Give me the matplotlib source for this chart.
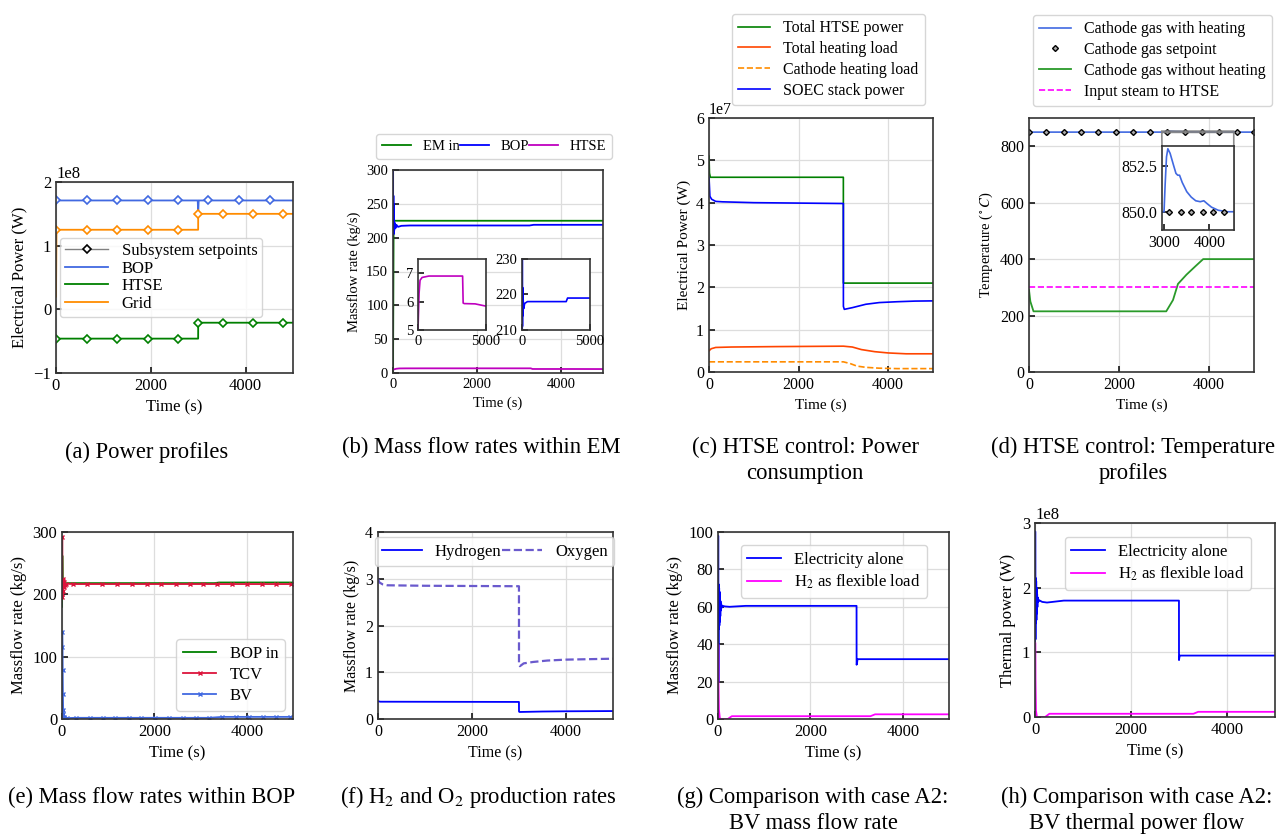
import numpy as np
import matplotlib
matplotlib.use('Agg')
from matplotlib import pyplot as plt
from matplotlib.lines import Line2D

plt.rcParams['font.family'] = ['Liberation Serif', 'DejaVu Serif']
plt.rcParams['mathtext.fontset'] = 'stix'
plt.rcParams['axes.edgecolor'] = '#333333'
plt.rcParams['axes.linewidth'] = 1.2

W, H = 1285, 835

# ---------------- data ----------------
# (a) power profiles, units of 1e8 W
a_bop_t = [0, 10, 30, 2990, 3000, 3010, 5000]
a_bop = [1.65, 1.70, 1.71, 1.71, 1.50, 1.71, 1.71]
a_grid_t = [0, 10, 20, 2999, 3000, 5000]
a_grid = [0.2, 1.2, 1.25, 1.25, 1.50, 1.50]
a_htse_t = [0, 2999, 3000, 5000]
a_htse = [-0.46, -0.46, -0.21, -0.21]
a_sp_bop_t = [0, 646, 1292, 1931, 2577, 3216, 3862, 4508]
a_sp_bop = [1.71, 1.71, 1.71, 1.71, 1.71, 1.71, 1.71, 1.71]
a_sp_t = [0, 646, 1292, 1931, 2577, 3000, 3525, 4157, 4789]
a_sp_grid = [1.24, 1.25, 1.25, 1.25, 1.25, 1.50, 1.50, 1.50, 1.50]
a_sp_htse = [-0.46, -0.46, -0.46, -0.46, -0.46, -0.21, -0.21, -0.21, -0.21]

# (b) mass flow rates within EM (kg/s)
b_em_t = [0, 15, 40, 5000]
b_em = [0, 223, 225, 225]
b_bop_t = [0, 5, 10, 15, 20, 30, 40, 60, 80, 120, 200, 400, 3250, 3350, 5000]
b_bop = [300, 210, 262, 205, 250, 211, 222, 214, 219, 216, 217.5, 218, 218, 219, 219]
b_htse_t = [0, 80, 150, 300, 800, 3280, 3320, 3400, 4200, 5000]
b_htse = [5.0, 6.3, 6.75, 6.85, 6.9, 6.9, 5.95, 5.93, 5.92, 5.84]

# (c) HTSE power, units of 1e7 W
c_tot_t = [0, 10, 30, 2999, 3000, 5000]
c_tot = [5.1, 4.7, 4.6, 4.6, 2.1, 2.1]
c_soec_t = [0, 20, 60, 150, 300, 1000, 2999, 3000, 3020, 3200, 3500, 3800, 4200, 4600, 5000]
c_soec = [4.6, 4.15, 4.08, 4.03, 4.02, 4.0, 3.98, 1.55, 1.48, 1.52, 1.60, 1.64, 1.66, 1.675, 1.68]
c_heat_t = [0, 50, 150, 500, 1500, 3000, 3200, 3400, 3700, 4000, 4400, 5000]
c_heat = [0.50, 0.55, 0.58, 0.59, 0.60, 0.61, 0.59, 0.53, 0.48, 0.45, 0.43, 0.43]
c_cath_t = [0, 3000, 3150, 3300, 3500, 3800, 4200, 5000]
c_cath = [0.24, 0.24, 0.20, 0.14, 0.11, 0.09, 0.08, 0.08]

# (d) temperature profiles (deg C)
d_heat_t = [0, 2995, 3020, 3050, 3080, 3130, 3200, 3260, 3300, 3340, 3400, 3500,
            3600, 3700, 3800, 3880, 3950, 4050, 4200, 4400, 5000]
d_heat = [850, 850, 851.5, 853.0, 853.45, 853.2, 852.6, 852.1, 852.0, 852.0, 851.6, 851.1,
          850.8, 850.6, 850.55, 850.6, 850.45, 850.25, 850.08, 850.0, 850.0]
d_sp_t = [0, 385, 769, 1154, 1538, 1923, 2308, 2692, 3077, 3462, 3846, 4231, 4615, 5000]
d_sp = [850] * 14
d_sp_in_t = [3110, 3370, 3600, 3850, 4090, 4330]
d_sp_in = [850] * 6
d_noheat_t = [0, 30, 100, 3050, 3200, 3310, 3500, 3700, 3870, 5000]
d_noheat = [290, 250, 215, 215, 255, 312, 345, 375, 400, 400]
d_steam_t = [0, 5000]
d_steam = [300, 300]

# (e) mass flow rates within BOP (kg/s)
e_bop_t = [0, 8, 15, 25, 40, 60, 100, 200, 3300, 3400, 5000]
e_bop = [180, 262, 230, 210, 222, 216, 218, 218, 218, 219, 219]
e_tcv_t = [0, 5, 10, 15, 20, 30, 40, 50, 60, 80, 237, 540, 863, 1187, 1511, 1835, 2140,
           2460, 2780, 3060, 3360, 3680, 4000, 4320, 4640, 4960]
e_tcv = [200, 292, 195, 225, 205, 222, 212, 219, 215, 217] + [216.5] * 16
e_bv_t = [0, 5, 10, 15, 20, 25, 30, 40, 50, 70, 100, 310, 600, 880, 1150, 1440, 1720,
          2010, 2320, 2610, 2910, 3180, 3470, 3760, 4050, 4340, 4640, 4930]
e_bv = [0, 140, 115, 78, 40, 15, 8, 3, 1, 0.5, 1.5, 1.9, 1.9, 1.9, 1.9, 1.9, 1.9,
        1.9, 1.9, 1.9, 1.9, 1.9, 3.4, 3.4, 3.4, 3.4, 3.4, 3.4]

# (f) H2 / O2 production (kg/s)
f_h2_t = [0, 50, 2999, 3000, 3010, 3500, 4000, 5000]
f_h2 = [0.38, 0.37, 0.365, 0.16, 0.15, 0.16, 0.165, 0.17]
f_o2_t = [0, 30, 100, 200, 1000, 2999, 3000, 3020, 3100, 3300, 3600, 4000, 4500, 5000]
f_o2 = [3.0, 2.92, 2.88, 2.86, 2.85, 2.84, 1.2, 1.13, 1.19, 1.22, 1.25, 1.27, 1.28, 1.29]

# (g) BV mass flow (kg/s) and (h) BV thermal power (1e8 W)
gh_elec_t = [0, 5, 10, 15, 20, 25, 30, 35, 40, 45, 50, 55, 60, 70, 80, 100, 150, 250,
             600, 2999, 3000, 3010, 3020, 5000]
g_elec = [0, 98, 20, 72, 48, 70, 50, 68, 52, 65, 55, 63, 58, 61.5, 59.5, 60.5, 60.2, 60,
          60.5, 60.5, 29, 30, 32, 32]
h_elec = [0, 2.87, 1.2, 2.15, 1.45, 2.1, 1.5, 2.0, 1.6, 1.9, 1.7, 1.85, 1.78, 1.82, 1.79,
          1.8, 1.78, 1.77, 1.8, 1.8, 0.88, 0.93, 0.95, 0.95]
gh_flex_t = [0, 5, 10, 20, 40, 60, 210, 300, 3300, 3400, 5000]
g_flex = [0, 40, 20, 5, 0.5, 0, 0, 1.5, 1.5, 2.5, 2.5]
h_flex = [0, 1.15, 0.6, 0.1, 0, 0, 0, 0.05, 0.05, 0.08, 0.08]

captions = ['(a) Power profiles', '(b) Mass flow rates within EM',
            '(c) HTSE control: Power\nconsumption', '(d) HTSE control: Temperature\nprofiles',
            '(e) Mass flow rates within BOP', '(f) H$_2$ and O$_2$ production rates',
            '(g) Comparison with case A2:\nBV mass flow rate',
            '(h) Comparison with case A2:\nBV thermal power flow']

# ---------------- layout ----------------
fig = plt.figure(figsize=(W / 100, H / 100), dpi=100)


def add_ax(l, t, r, b):
    return fig.add_axes([l / W, 1 - b / H, (r - l) / W, (b - t) / H])


def style(ax, fs, grid=True):
    ax.tick_params(direction='in', labelsize=fs, length=4, width=1.1)
    if grid:
        ax.grid(True, color='#dddddd', lw=0.9)
        ax.set_axisbelow(True)
    ax.yaxis.get_offset_text().set_fontsize(fs)


# (a)
ax = add_ax(56, 182, 293, 373)
ax.plot(a_bop_t, np.array(a_bop) * 1e8, color='royalblue', lw=1.3)
ax.plot(a_htse_t, np.array(a_htse) * 1e8, color='green', lw=1.3)
ax.plot(a_grid_t, np.array(a_grid) * 1e8, color='darkorange', lw=1.3)
mk = dict(ls='none', marker='D', ms=4.5, mfc='white', mew=1.2)
ax.plot(a_sp_bop_t, np.array(a_sp_bop) * 1e8, mec='royalblue', **mk)
ax.plot(a_sp_t, np.array(a_sp_htse) * 1e8, mec='green', **mk)
ax.plot(a_sp_t, np.array(a_sp_grid) * 1e8, mec='darkorange', **mk)
ax.set_xlim(0, 5000)
ax.set_ylim(-1e8, 2e8)
ax.set_yticks([-1e8, 0, 1e8, 2e8])
ax.set_xticks([0, 2000, 4000])
ax.set_xlabel('Time (s)', fontsize=12)
ax.set_ylabel('Electrical Power (W)', fontsize=12)
style(ax, 12)
handles = [Line2D([], [], color='gray', lw=1, marker='D', ms=4, mfc='white', mec='k', mew=1.2),
           Line2D([], [], color='royalblue', lw=1.3),
           Line2D([], [], color='green', lw=1.3),
           Line2D([], [], color='darkorange', lw=1.3)]
ax.legend(handles, ['Subsystem setpoints', 'BOP', 'HTSE', 'Grid'], fontsize=12,
          loc='upper left', bbox_to_anchor=(0.017, 0.707), borderaxespad=0,
          borderpad=0.3, labelspacing=0.1, handlelength=2.6)

# (b)
ax = add_ax(393, 170, 603, 373)
ax.plot(b_em_t, b_em, color='green', lw=1.3, label='EM in')
ax.plot(b_bop_t, b_bop, color='blue', lw=1.3, label='BOP')
ax.plot(b_htse_t, b_htse, color='m', lw=1.3, label='HTSE')
ax.set_xlim(0, 5000)
ax.set_ylim(0, 300)
ax.set_yticks(range(0, 301, 50))
ax.set_xticks([0, 2000, 4000])
ax.set_xlabel('Time (s)', fontsize=10.5)
ax.set_ylabel('Massflow rate (kg/s)', fontsize=10.5)
style(ax, 10.5)
ax.legend(ncol=3, fontsize=10.5, loc='lower center', bbox_to_anchor=(0.483, 1.054),
          borderaxespad=0, columnspacing=0.0, borderpad=0.4)
ins = add_ax(418, 259, 486, 330)
ins.plot(b_htse_t, b_htse, color='m', lw=1.2)
ins.set_xlim(0, 5000)
ins.set_ylim(5, 7.5)
ins.set_yticks([5, 6, 7])
ins.set_xticks([0, 5000])
style(ins, 10.5, grid=False)
ins = add_ax(522, 259, 590, 330)
ins.plot(b_bop_t, b_bop, color='blue', lw=1.2)
ins.set_xlim(0, 5000)
ins.set_ylim(210, 230)
ins.set_yticks([210, 220, 230])
ins.set_xticks([0, 5000])
style(ins, 10.5, grid=False)

# (c)
ax = add_ax(709, 118, 933, 372)
ax.plot(c_tot_t, np.array(c_tot) * 1e7, color='green', lw=1.2, label='Total HTSE power')
ax.plot(c_heat_t, np.array(c_heat) * 1e7, color='orangered', lw=1.2, label='Total heating load')
ax.plot(c_cath_t, np.array(c_cath) * 1e7, color='darkorange', lw=1.2, ls='--',
        label='Cathode heating load')
ax.plot(c_soec_t, np.array(c_soec) * 1e7, color='blue', lw=1.2, label='SOEC stack power')
ax.set_xlim(0, 5000)
ax.set_ylim(0, 6e7)
ax.set_xticks([0, 2000, 4000])
ax.set_xlabel('Time (s)', fontsize=11)
ax.set_ylabel('Electrical Power (W)', fontsize=11)
style(ax, 11.5)
ax.legend(fontsize=11.5, loc='lower center', bbox_to_anchor=(0.533, 1.051),
          borderaxespad=0, borderpad=0.4, labelspacing=0.3)

# (d)
ax = add_ax(1029, 118, 1254, 372)
ax.plot(d_heat_t, d_heat, color='royalblue', lw=1.2, label='Cathode gas with heating')
spk = dict(ls='none', marker='D', ms=3, mfc='#aaaaaa', mec='k', mew=1.0)
ax.plot(d_sp_t, d_sp, label='Cathode gas setpoint', **spk)
ax.plot(d_noheat_t, d_noheat, color='#2a9a2a', lw=1.3, label='Cathode gas without heating')
ax.plot(d_steam_t, d_steam, color='magenta', lw=1.2, ls='--', label='Input steam to HTSE')
ax.set_xlim(0, 5000)
ax.set_ylim(0, 900)
ax.set_yticks(range(0, 801, 200))
ax.set_xticks([0, 2000, 4000])
ax.set_xlabel('Time (s)', fontsize=11)
ax.set_ylabel('Temperature ($^\\circ C$)', fontsize=10.5)
style(ax, 11.5)
ax.legend(fontsize=11.5, loc='lower center', bbox_to_anchor=(0.549, 1.047),
          borderaxespad=0, borderpad=0.4, labelspacing=0.3)
ins = add_ax(1162, 146, 1234, 230)
ins.plot(d_heat_t, d_heat, color='royalblue', lw=1.2)
ins.plot(d_sp_in_t, d_sp_in, **spk)
ins.set_xlim(2950, 4550)
ins.set_ylim(849, 853.6)
ins.set_xticks([3000, 4000])
ins.set_yticks([850.0, 852.5])
ins.yaxis.set_major_formatter(matplotlib.ticker.FormatStrFormatter('%.1f'))
style(ins, 11.5, grid=False)
ax.indicate_inset_zoom(ins, edgecolor='gray', alpha=0.9, lw=1.2)

# (e)
ax = add_ax(62, 532, 293, 719)
ax.plot(e_bop_t, e_bop, color='green', lw=1.3, label='BOP in')
ax.plot(e_tcv_t, e_tcv, color='crimson', lw=1.3, marker='x', ms=3.5, mew=1, label='TCV')
ax.plot(e_bv_t, e_bv, color='royalblue', lw=1.3, marker='x', ms=3.5, mew=1, label='BV')
ax.set_xlim(0, 5000)
ax.set_ylim(0, 300)
ax.set_yticks([0, 100, 200, 300])
ax.set_xticks([0, 2000, 4000])
ax.set_xlabel('Time (s)', fontsize=12)
ax.set_ylabel('Massflow rate (kg/s)', fontsize=12)
style(ax, 12)
ax.legend(fontsize=12, loc='lower right', borderpad=0.4, labelspacing=0.3)

# (f)
ax = add_ax(378, 532, 613, 719)
ax.plot(f_h2_t, f_h2, color='blue', lw=1.3, label='Hydrogen')
ax.plot(f_o2_t, f_o2, color='slateblue', lw=1.6, ls='--', label='Oxygen')
ax.set_xlim(0, 5000)
ax.set_ylim(0, 4)
ax.set_yticks([0, 1, 2, 3, 4])
ax.set_xticks([0, 2000, 4000])
ax.set_xlabel('Time (s)', fontsize=11.5)
ax.set_ylabel('Massflow rate (kg/s)', fontsize=11.5)
style(ax, 11.5)
ax.legend(ncol=2, fontsize=12, loc='upper center', bbox_to_anchor=(0.496, 0.973),
          borderaxespad=0, columnspacing=0.0, handlelength=2.4)

# (g)
ax = add_ax(718, 532, 949, 719)
ax.plot(gh_elec_t, g_elec, color='blue', lw=1.3, label='Electricity alone')
ax.plot(gh_flex_t, g_flex, color='magenta', lw=1.3, label='H$_2$ as flexible load')
ax.set_xlim(0, 5000)
ax.set_ylim(0, 100)
ax.set_yticks(range(0, 101, 20))
ax.set_xticks([0, 2000, 4000])
ax.set_xlabel('Time (s)', fontsize=12)
ax.set_ylabel('Massflow rate (kg/s)', fontsize=12)
style(ax, 12)
ax.legend(fontsize=12, loc='upper right', bbox_to_anchor=(0.905, 0.93), borderaxespad=0,
          labelspacing=0.3)

# (h)
ax = add_ax(1035, 523, 1275, 717)
ax.plot(gh_elec_t, np.array(h_elec) * 1e8, color='blue', lw=1.3, label='Electricity alone')
ax.plot(gh_flex_t, np.array(h_flex) * 1e8, color='magenta', lw=1.3, label='H$_2$ as flexible load')
ax.set_xlim(0, 5000)
ax.set_ylim(0, 3e8)
ax.set_yticks([0, 1e8, 2e8, 3e8])
ax.set_xticks([0, 2000, 4000])
ax.set_xlabel('Time (s)', fontsize=12)
ax.set_ylabel('Thermal power (W)', fontsize=12)
style(ax, 12)
ax.legend(fontsize=12, loc='upper right', bbox_to_anchor=(0.9, 0.928), borderaxespad=0,
          labelspacing=0.3)

# captions
cap_x = [147, 481, 805, 1133, 152, 478, 813, 1137]
cap_y = [452, 447, 460.5, 460.5, 797, 797, 810.5, 810.5]
for txt, cx, cy in zip(captions, cap_x, cap_y):
    fig.text(cx / W, 1 - cy / H, txt, ha='center', va='center', fontsize=16.3,
             linespacing=1.3)

fig.savefig('out.png', dpi=100)
